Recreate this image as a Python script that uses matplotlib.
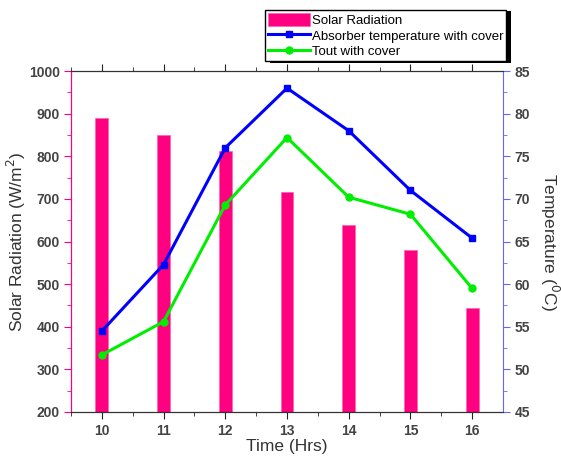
import matplotlib.pyplot as plt
from matplotlib.patches import Rectangle

plt.rcParams['font.family'] = ['Liberation Sans', 'DejaVu Sans']

hours = [10, 11, 12, 13, 14, 15, 16]
solar = [890, 850, 812, 716, 638, 580, 443]
absorber_temp = [54.5, 62.3, 76, 83, 78, 71, 65.4]
tout = [51.7, 55.6, 69.3, 77.2, 70.2, 68.2, 59.5]

pink = '#ff0080'
tick_col = '#444444'

fig = plt.figure(figsize=(5.61, 4.57), dpi=100)
ax = fig.add_axes([0.1266, 0.0985, 0.77, 0.746])
ax2 = ax.twinx()

ax.bar(hours, [s - 200 for s in solar], bottom=200, width=0.21, color=pink,
       edgecolor='#ff66b3', linewidth=0.6, label='Solar Radiation')
l1, = ax2.plot(hours, absorber_temp, color='#0000ff', lw=2.2, marker='s', ms=5,
               label='Absorber temperature with cover')
l2, = ax2.plot(hours, tout, color='#00ee00', lw=2.2, marker='o', ms=5,
               label='Tout with cover')

ax.set_xlim(9.5, 16.5)
ax.set_ylim(200, 1000)
ax2.set_ylim(45, 85)
ax.set_xticks(hours)
ax.set_xticks([h + 0.5 for h in hours[:-1]] + [9.5], minor=True)
ax.set_yticks(range(200, 1001, 100))
ax.set_yticks(range(250, 1000, 100), minor=True)
ax2.set_yticks(range(45, 86, 5))
ax2.set_yticks([47.5 + 5 * i for i in range(8)], minor=True)

ax.tick_params(axis='x', which='both', top=True, direction='out', colors='#222222',
               labelcolor=tick_col, labelsize=10)
ax.tick_params(axis='x', which='major', length=5)
ax.tick_params(axis='x', which='minor', length=3)
ax.tick_params(axis='y', which='major', colors=pink, labelcolor=tick_col, labelsize=10,
               length=5, pad=3)
ax.tick_params(axis='y', which='minor', colors=pink, length=3)
ax2.tick_params(axis='y', which='major', colors='#6666ff', labelcolor=tick_col, labelsize=10, length=5)
ax2.tick_params(axis='y', which='minor', colors='#6666ff', length=3)
for lab in ax.get_xticklabels() + ax.get_yticklabels() + ax2.get_yticklabels():
    lab.set_fontweight('bold')

ax.spines['left'].set_color(pink)
ax2.spines['left'].set_color(pink)
ax2.spines['right'].set_color('#6666ff')
ax.spines['right'].set_visible(False)
for sp in ['bottom', 'top']:
    ax2.spines[sp].set_color('#333333')

ax.set_xlabel('Time (Hrs)', fontsize=12.5, color='#333333', labelpad=1)
ax.set_ylabel('Solar Radiation (W/m$^2$)', fontsize=12.5, color='#333333', labelpad=1)
ax2.set_ylabel('Temperature ($^0$C)', fontsize=12.5, color='#333333', rotation=270, labelpad=22)

# legend box with solid shadow
fig.patches.append(Rectangle((0.481, 0.862), 0.43, 0.113, transform=fig.transFigure,
                             facecolor='black', edgecolor='none', zorder=5))
handles, labels = ax.get_legend_handles_labels()
leg = fig.legend(handles + [l1, l2], labels + [l1.get_label(), l2.get_label()],
                 loc='upper left', bbox_to_anchor=(0.472, 0.978), fancybox=False,
                 framealpha=1, edgecolor='black', fontsize=9.5, handlelength=3.2,
                 handleheight=1.1, borderpad=0.25, labelspacing=0.12, handletextpad=0.1,
                 borderaxespad=0)
leg.get_frame().set_linewidth(1)
leg.set_zorder(6)

fig.savefig('out.png', dpi=100)
